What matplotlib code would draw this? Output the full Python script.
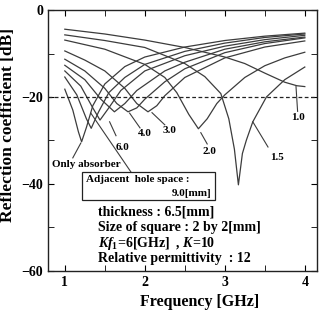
import matplotlib
matplotlib.use("Agg")
import matplotlib.pyplot as plt
from matplotlib.ticker import MultipleLocator
from matplotlib.patches import Rectangle

plt.rcParams['font.family'] = ['Liberation Serif', 'DejaVu Serif']
plt.rcParams['font.weight'] = 'bold'
plt.rcParams['mathtext.fontset'] = 'custom'
plt.rcParams['mathtext.it'] = 'Liberation Serif:italic:bold'
plt.rcParams['mathtext.rm'] = 'Liberation Serif:bold'

# Curves: frequency [GHz] and reflection coefficient [dB]
f_10 = [1.0, 1.5, 2.0, 2.5, 3.0, 3.25, 3.5, 3.75, 3.9, 4.0]
r_10 = [-4.4, -5.5, -6.9, -8.6, -10.8, -12.3, -14.5, -16.6, -17.4, -17.6]

f_15 = [1.0, 1.5, 2.0, 2.5, 2.75, 2.95, 3.05, 3.12, 3.17, 3.22, 3.27, 3.35, 3.52, 3.75, 4.0]
r_15 = [-5.7, -7.0, -8.6, -12.3, -15.3, -19.2, -25.0, -32.0, -40.2, -33.0, -29.9, -25.7, -20.0, -16.0, -13.1]

f_20 = [1.0, 1.5, 2.0, 2.25, 2.4, 2.55, 2.67, 2.78, 2.9, 3.0, 3.25, 3.5, 3.75, 4.0]
r_20 = [-6.9, -9.0, -12.5, -15.5, -19.0, -24.0, -27.3, -25.0, -21.5, -19.5, -15.5, -12.8, -11.0, -9.7]

f_30 = [1.0, 1.25, 1.5, 1.75, 1.9, 2.04, 2.15, 2.25, 2.5, 3.0, 3.5, 4.0]
r_30 = [-9.4, -11.5, -14.0, -18.0, -21.5, -23.4, -22.0, -19.7, -15.5, -11.0, -8.5, -7.1]

f_40 = [1.0, 1.25, 1.5, 1.65, 1.79, 1.9, 2.0, 2.25, 2.5, 3.0, 3.5, 4.0]
r_40 = [-11.3, -14.0, -18.0, -21.5, -23.4, -22.5, -20.5, -16.5, -13.5, -9.8, -7.7, -6.4]

f_50 = [1.0, 1.25, 1.45, 1.62, 1.75, 1.9, 2.25, 2.5, 3.0, 3.5, 4.0]
r_50 = [-12.7, -16.0, -20.5, -23.4, -21.5, -18.5, -14.0, -12.0, -9.0, -7.3, -6.2]

f_60 = [1.0, 1.2, 1.35, 1.44, 1.55, 1.7, 2.0, 2.5, 3.0, 3.5, 4.0]
r_60 = [-14.0, -17.5, -22.5, -25.3, -22.5, -18.5, -14.0, -10.5, -8.3, -6.8, -5.8]

f_80 = [1.0, 1.15, 1.27, 1.33, 1.42, 1.55, 1.75, 2.0, 2.5, 3.0, 3.5, 4.0]
r_80 = [-15.4, -19.5, -25.0, -27.2, -23.5, -19.0, -15.5, -12.5, -9.5, -7.6, -6.3, -5.5]

f_oa = [1.0, 1.1, 1.17, 1.21, 1.27, 1.35, 1.5, 1.75, 2.0, 2.5, 3.0, 3.5, 4.0]
r_oa = [-18.2, -23.0, -28.0, -30.3, -27.0, -22.0, -17.0, -13.0, -10.8, -8.5, -7.0, -6.0, -5.3]

curves = [(f_10, r_10), (f_15, r_15), (f_20, r_20), (f_30, r_30), (f_40, r_40),
          (f_50, r_50), (f_60, r_60), (f_80, r_80), (f_oa, r_oa)]

x_ticks = [1, 2, 3, 4]
y_ticks = [0, -20, -40, -60]
y_tick_labels = ['0', '\u221220', '\u221240', '\u221260']

# curve labels: (text, label x, label y, leader start, leader end)
curve_labels = [
    ('1.0', 3.91, -24.8, (3.89, -17.6), (3.91, -23.3)),
    ('1.5', 3.65, -33.8, (3.35, -25.7), (3.54, -31.5)),
    ('2.0', 2.81, -32.6, (2.70, -28.2), (2.78, -30.8)),
    ('3.0', 2.31, -27.8, (2.09, -23.6), (2.25, -26.4)),
    ('4.0', 2.00, -28.4, (1.81, -23.7), (1.94, -27.1)),
    ('6.0', 1.72, -31.6, (1.56, -25.7), (1.64, -28.9)),
    ('Only absorber', 1.27, -35.5, (1.20, -30.6), (1.10, -34.0)),
]

fig = plt.figure(figsize=(3.2, 3.15), dpi=100)
ax = fig.add_axes([0.15, 0.14, 0.84, 0.828])

lc = '#3c3c3c'
for fx, ry in curves:
    ax.plot(fx, ry, color=lc, lw=0.9)

ax.axhline(-20, color='#222222', lw=0.9, ls=(0, (3, 2)))

for txt, lx, ly, p0, p1 in curve_labels:
    ax.plot([p0[0], p1[0]], [p0[1], p1[1]], color=lc, lw=0.8)
    ax.text(lx, ly, txt, ha='center', va='center', fontsize=8, fontweight='bold')

# leader to the box
ax.plot([1.325, 1.825], [-23.7, -37.2], color=lc, lw=0.8)

ax.add_patch(Rectangle((1.2125, -43.7), 2.875 - 1.2125, 6.5, fc='white',
                       ec='#222222', lw=0.9, zorder=3))
ax.text(1.26, -39.0, 'Adjacent  hole space :', fontsize=8, fontweight='bold',
        va='center', ha='left', zorder=4)
ax.text(2.83, -42.2, '9.0[mm]', fontsize=8, fontweight='bold', va='center',
        ha='right', zorder=4)

params = ['thickness : 6.5[mm]', 'Size of square : 2 by 2[mm]',
          r'$Kf_1$=6[GHz]  , $K$=10', 'Relative permittivity  : 12']
ys = [-46.5, -50.0, -53.6, -57.1]
for t, yy in zip(params, ys):
    ax.text(1.41, yy, t, fontsize=10, fontweight='bold', va='center', ha='left')

ax.set_xlim(0.79, 4.15)
ax.set_ylim(-60, 0)
ax.set_xticks(x_ticks)
ax.set_xticklabels([str(v) for v in x_ticks])
ax.set_yticks(y_ticks)
ax.set_yticklabels(y_tick_labels)
ax.xaxis.set_minor_locator(MultipleLocator(0.5))
ax.yaxis.set_minor_locator(MultipleLocator(10))
ax.tick_params(which='both', direction='in', top=True, right=True, labelsize=10)
ax.tick_params(which='major', length=4)
ax.tick_params(which='minor', length=4)
for lab in ax.get_xticklabels() + ax.get_yticklabels():
    lab.set_fontweight('bold')
for s in ax.spines.values():
    s.set_linewidth(1.0)
    s.set_color('#222222')

ax.set_xlabel('Frequency [GHz]', fontsize=11.5, fontweight='bold')
ax.xaxis.set_label_coords(0.565, -0.09)
ax.set_ylabel('Reflection coefficient [dB]', fontsize=12.5, fontweight='bold')
ax.yaxis.set_label_coords(-0.12, 0.56)

fig.savefig('out.png', dpi=100)
